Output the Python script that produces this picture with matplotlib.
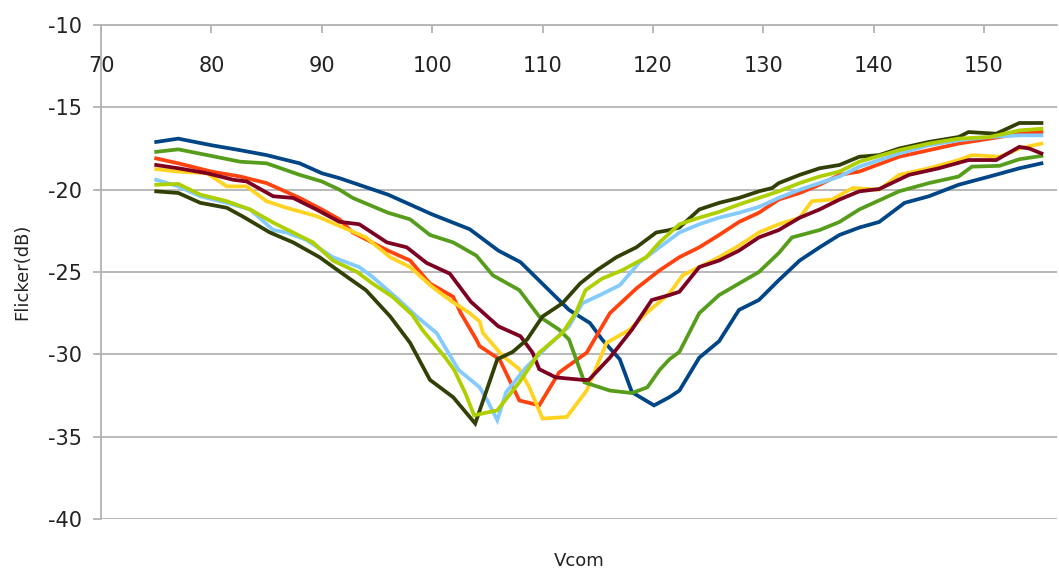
"""
Flicker vs Vcom curves (8 panels/conditions), LibreOffice-style line chart.
"""

import matplotlib
matplotlib.use("Agg")
import matplotlib.pyplot as plt

# ----------------------------- data --------------------------------------- #

blue_x = [75, 77, 80, 82.6, 85, 88, 90, 91.6, 96, 100, 103.4, 106, 108, 112.4, 114.3, 115.4,
          117, 118.1, 120.1, 121.5, 122.4, 124.2, 126, 127.8, 129.6, 131.4, 133.3, 135.1,
          136.9, 138.7, 140.5, 142.8, 145, 147.7, 150.5, 153.2, 155.2]
blue_y = [-17.1, -16.9, -17.3, -17.6, -17.9, -18.4, -19.0, -19.3, -20.3, -21.5, -22.4, -23.7,
          -24.4, -27.3, -28.1, -29.1, -30.3, -32.3, -33.1, -32.6, -32.2, -30.2, -29.2, -27.3,
          -26.7, -25.5, -24.3, -23.5, -22.75, -22.3, -21.96, -20.8, -20.4, -19.7, -19.2,
          -18.7, -18.4]

orange_x = [75, 77, 80, 82.6, 85, 88, 90, 91.6, 92.8, 96, 98, 99.8, 101.9, 102.6, 104, 104.3,
            106.1, 107.9, 109.7, 111.5, 114, 116.1, 118.5, 120.6, 122.4, 124.2, 126, 127.8,
            129.6, 131.4, 133.3, 135.1, 136.9, 138.7, 142.3, 145, 147.7, 150.5, 153.2, 155.2]
orange_y = [-18.1, -18.4, -18.9, -19.2, -19.6, -20.5, -21.2, -21.8, -22.6, -23.7, -24.3, -25.7,
            -26.5, -27.5, -29.1, -29.5, -30.3, -32.8, -33.1, -31.1, -29.9, -27.5, -26.0, -24.9,
            -24.1, -23.5, -22.75, -21.96, -21.4, -20.6, -20.2, -19.7, -19.1, -18.9, -18.0,
            -17.6, -17.2, -16.9, -16.6, -16.5]

yellow_x = [75, 77, 79.6, 81.4, 83.2, 85, 86.8, 89.5, 92.3, 94, 96.2, 98, 100, 101.6, 103.4,
            104.3, 104.6, 106.4, 107.9, 108.8, 110, 112.2, 114, 115.8, 117.9, 119.4, 121.5,
            122.7, 124.2, 126, 127.8, 129.6, 131.4, 133.3, 134.4, 136.2, 138.1, 140.5, 142.3,
            145, 147.7, 148.9, 151.4, 153.2, 155.2]
yellow_y = [-18.75, -18.9, -19.0, -19.8, -19.8, -20.7, -21.1, -21.6, -22.4, -22.9, -24.1, -24.7,
            -25.9, -26.7, -27.5, -28.0, -28.7, -30.1, -30.9, -32.0, -33.9, -33.8, -32.2, -29.3,
            -28.5, -27.5, -26.3, -25.2, -24.7, -24.1, -23.4, -22.6, -22.1, -21.7, -20.7, -20.6,
            -19.9, -20.0, -19.1, -18.7, -18.2, -17.9, -18.0, -17.5, -17.2]

green_x = [75, 77, 80, 82.6, 85, 88, 90, 91.6, 92.8, 96, 98, 99.8, 101.9, 104, 105.5, 107.9,
           109.7, 111.5, 112.4, 113.8, 116.1, 118.1, 119.5, 120.6, 121.5, 122.4, 124.2, 126,
           127.8, 129.6, 131.4, 132.6, 135.1, 136.9, 138.7, 142.3, 145, 147.7, 148.9, 151.4,
           153.2, 155.2]
green_y = [-17.7, -17.55, -17.95, -18.3, -18.4, -19.1, -19.5, -20.0, -20.5, -21.4, -21.8, -22.75,
           -23.2, -24.0, -25.2, -26.1, -27.7, -28.5, -29.1, -31.7, -32.2, -32.35, -32.0, -30.95,
           -30.3, -29.85, -27.5, -26.4, -25.7, -25.0, -23.85, -22.9, -22.45, -21.96, -21.2,
           -20.1, -19.6, -19.2, -18.6, -18.55, -18.15, -17.95]

maroon_x = [75, 77, 79.6, 82, 83.2, 85.6, 87.4, 89.5, 91.6, 93.4, 95.9, 97.7, 99.5, 101.6,
            103.5, 106, 108, 109.1, 109.7, 111.2, 113.6, 114.2, 116.1, 118.1, 119.9, 121.5,
            122.4, 124.2, 126, 127.8, 129.6, 131.4, 133.3, 135.1, 136.9, 138.7, 140.5, 143.2,
            145.9, 148.6, 151.1, 153.2, 154.1, 155.2]
maroon_y = [-18.5, -18.7, -19.0, -19.4, -19.5, -20.4, -20.5, -21.2, -21.95, -22.1, -23.2, -23.5,
            -24.45, -25.1, -26.8, -28.3, -28.9, -29.9, -30.9, -31.4, -31.55, -31.55, -30.2,
            -28.5, -26.7, -26.4, -26.2, -24.7, -24.3, -23.7, -22.9, -22.45, -21.7, -21.2, -20.6,
            -20.1, -19.96, -19.1, -18.7, -18.2, -18.2, -17.4, -17.5, -17.8]

ltblue_x = [75, 77, 79, 81.4, 83.5, 85.6, 86.8, 88.6, 91, 93.4, 94.6, 97, 98.6, 100.4, 102.4,
            103.4, 104.3, 105, 105.9, 106.7, 108.5, 110.4, 112.4, 113.6, 115.2, 117, 118.8,
            120.6, 122.4, 124.2, 126, 127.8, 129.6, 131.4, 133.3, 135.1, 136.9, 138.7, 142.3,
            145, 147.7, 150.5, 153.2, 155.2]
ltblue_y = [-19.4, -19.8, -20.4, -20.8, -21.2, -22.45, -22.6, -23.05, -24.1, -24.7, -25.3, -26.7,
            -27.7, -28.7, -30.95, -31.5, -32.0, -32.8, -34.0, -32.3, -30.8, -29.55, -28.3, -26.9,
            -26.4, -25.8, -24.4, -23.5, -22.6, -22.1, -21.7, -21.4, -21.05, -20.5, -20.0, -19.6,
            -19.2, -18.6, -17.8, -17.3, -17.0, -16.8, -16.7, -16.7]

olive_x = [75, 77, 79, 81.4, 82.9, 85.3, 87.4, 89.8, 92.3, 94, 96.2, 98, 99.8, 101.9, 103.9,
           105.9, 107.3, 108.6, 110, 111.8, 113.4, 114.9, 116.7, 118.5, 120.3, 121.5, 122.4,
           124.2, 126, 127.8, 129.6, 130.8, 131.4, 133.3, 135.1, 136.9, 138.7, 140.5, 142.3,
           145, 147.7, 148.6, 151.1, 153.2, 155.2]
olive_y = [-20.1, -20.2, -20.8, -21.1, -21.65, -22.6, -23.2, -24.1, -25.3, -26.1, -27.7, -29.3,
           -31.55, -32.6, -34.2, -30.3, -29.85, -29.1, -27.7, -26.9, -25.7, -24.9, -24.1, -23.5,
           -22.6, -22.45, -22.3, -21.2, -20.8, -20.5, -20.1, -19.9, -19.6, -19.1, -18.7, -18.5,
           -18.0, -17.9, -17.5, -17.1, -16.8, -16.5, -16.6, -15.95, -15.95]

lime_x = [75, 77, 79, 81.4, 83.5, 85.6, 87.4, 89.2, 91, 93.2, 94.6, 96.4, 98.2, 99.1, 101.2,
          102, 103, 103.8, 105.9, 107.9, 109.7, 111.8, 113, 113.9, 115.4, 117.2, 119.4, 120.6,
          122.4, 124.2, 126, 127.8, 129.6, 131.4, 133.3, 135.1, 136.9, 138.7, 142.3, 145,
          147.7, 150.5, 153.2, 155.2]
lime_y = [-19.7, -19.65, -20.3, -20.7, -21.2, -22.0, -22.6, -23.2, -24.3, -25.0, -25.7, -26.5,
          -27.6, -28.5, -30.2, -30.95, -32.35, -33.7, -33.4, -31.7, -29.9, -28.7, -27.5, -26.1,
          -25.4, -24.9, -24.1, -23.2, -22.1, -21.7, -21.35, -20.9, -20.5, -20.1, -19.6, -19.2,
          -18.9, -18.3, -17.6, -17.2, -16.9, -16.8, -16.4, -16.3]

# drawing order follows the spreadsheet series order
series = [
    (blue_x, blue_y, "#004586"),
    (orange_x, orange_y, "#ff420e"),
    (yellow_x, yellow_y, "#ffd320"),
    (green_x, green_y, "#579d1c"),
    (maroon_x, maroon_y, "#7e0021"),
    (ltblue_x, ltblue_y, "#83caff"),
    (olive_x, olive_y, "#314004"),
    (lime_x, lime_y, "#aecf00"),
]

x_ticks = [70, 80, 90, 100, 110, 120, 130, 140, 150]
y_ticks = [-40, -35, -30, -25, -20, -15, -10]

# ----------------------------- plot --------------------------------------- #

plt.rcParams["axes.unicode_minus"] = False
plt.rcParams["font.family"] = "DejaVu Sans"

GRID = "#b3b3b3"

fig = plt.figure(figsize=(10.59, 5.74), dpi=100)
ax = fig.add_axes([0.0954, 0.0958, 0.9026, 0.8606])

for xs, ys, col in series:
    ax.plot(xs, ys, color=col, linewidth=2.7, solid_joinstyle="miter", zorder=3)

ax.set_xlim(70, 156.6)
ax.set_ylim(-40, -10)
ax.set_xticks(x_ticks)
ax.set_yticks(y_ticks)

ax.yaxis.grid(True, color=GRID, linewidth=1.3)
ax.set_axisbelow(True)

for side in ("right", "bottom"):
    ax.spines[side].set_visible(False)
for side in ("left", "top"):
    ax.spines[side].set_color(GRID)
    ax.spines[side].set_linewidth(1.3)

ax.xaxis.set_ticks_position("top")
ax.tick_params(axis="x", direction="in", length=6, width=1.3, color=GRID,
               labelsize=15, pad=-37, labelcolor="#222222")
ax.tick_params(axis="y", direction="out", length=6, width=1.3, color=GRID,
               labelsize=15, pad=8, labelcolor="#222222")

ax.xaxis.set_label_position("bottom")
ax.set_xlabel("Vcom", fontsize=13, labelpad=24, color="#222222")
ax.set_ylabel("Flicker(dB)", fontsize=13, labelpad=12, color="#222222")

fig.savefig("out.png", dpi=100)
